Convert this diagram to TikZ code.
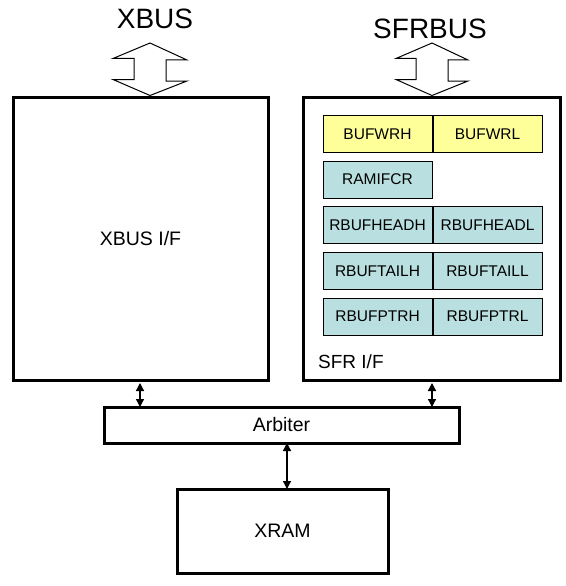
\documentclass[tikz,border=0pt]{standalone}
\usepackage{fontspec}
\setmainfont{Liberation Sans}
\usetikzlibrary{arrows.meta}
\definecolor{regyellow}{HTML}{FFFF99}
\definecolor{regteal}{HTML}{B9DFE0}
\tikzset{
  bigbox/.style={draw, line width=3pt, inner sep=0pt, font=\fontsize{19.5}{20}\selectfont},
  regbox/.style={draw, line width=1pt, minimum width=109pt, minimum height=37pt, inner sep=0pt, font=\fontsize{15.5}{16}\selectfont},
  regy/.style={regbox, fill=regyellow},
  regt/.style={regbox, fill=regteal},
  link/.style={line width=1.3pt, {Triangle[length=8pt,width=8pt]}-{Triangle[length=8pt,width=8pt]}},
  busarrow/.style={draw, line width=1pt, fill=white, line join=miter},
  bustext/.style={font=\fontsize{28}{28}\selectfont, inner sep=0pt, anchor=base}
}
\begin{document}
\begin{tikzpicture}[x=1pt,y=-1pt]
\useasboundingbox (0,0) rectangle (565,586);
% main blocks
\node[bigbox, minimum width=255pt, minimum height=283pt] (xif) at (140.5,238.5) {XBUS I/F};
\node[bigbox, minimum width=257pt, minimum height=283pt] (sif) at (431.5,238.5) {};
\node[font=\fontsize{19}{20}\selectfont, anchor=base west, inner sep=0pt] (siflabel) at (318,368) {SFR I/F};
\node[bigbox, minimum width=355pt, minimum height=36pt] (arb) at (281.5,425) {Arbiter};
\node[bigbox, minimum width=211pt, minimum height=84pt] (xram) at (282.5,531) {XRAM};
% registers
\node[regy] (bufwrh) at (377.5,134) {BUFWRH};
\node[regy] (bufwrl) at (487.5,134) {BUFWRL};
\node[regt] (ramifcr) at (377.5,179.5) {RAMIFCR};
\node[regt] (rbhh) at (377.5,225) {RBUFHEADH};
\node[regt] (rbhl) at (487.5,225) {RBUFHEADL};
\node[regt] (rbth) at (377.5,271) {RBUFTAILH};
\node[regt] (rbtl) at (487.5,271) {RBUFTAILL};
\node[regt] (rbph) at (377.5,316.5) {RBUFPTRH};
\node[regt] (rbpl) at (487.5,316.5) {RBUFPTRL};
% bus labels
\node[bustext] (xbus) at (155,29) {XBUS};
\node[bustext] (sfrbus) at (430,39) {SFRBUS};
% bus block arrows
\coordinate (xtip) at (150,43);
\coordinate (stip) at (432,43);
\path[busarrow] (xtip) -- ++(37,17) -- ++(-21,0) -- ++(0,21) -- ++(21,0) -- (xif.north -| xtip) -- ++(-37,-16) -- ++(21,0) -- ++(0,-21) -- ++(-21,0) -- cycle;
\path[busarrow] (stip) -- ++(36,17) -- ++(-20,0) -- ++(0,21) -- ++(20,0) -- (sif.north -| stip) -- ++(-36,-16) -- ++(20,0) -- ++(0,-21) -- ++(-20,0) -- cycle;
% links
\draw[link] (xif.south -| 140,0) ++(0,1.5) -- ([yshift=-1.5pt]arb.north -| 140,0);
\draw[link] (sif.south -| 432,0) ++(0,1.5) -- ([yshift=-1.5pt]arb.north -| 432,0);
\draw[link] ([yshift=1.5pt]arb.south -| 287,0) -- ([yshift=-1.5pt]xram.north -| 287,0);
\end{tikzpicture}
\end{document}
